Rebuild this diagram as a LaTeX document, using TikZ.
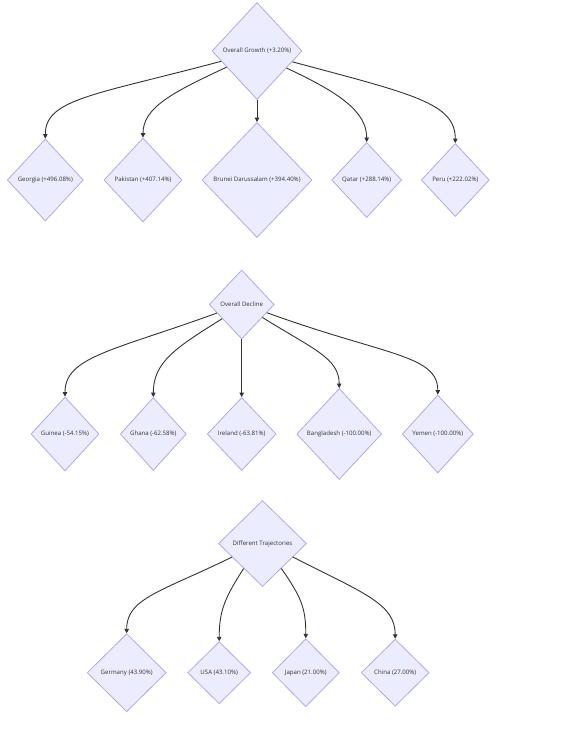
\documentclass[tikz,border=0pt]{standalone}
\usepackage{fontspec}
\setmainfont{Open Sans}
\usetikzlibrary{shapes.geometric,arrows.meta}
\definecolor{nodefill}{HTML}{ECECFF}
\definecolor{nodeline}{HTML}{B3A6EC}
\definecolor{edgeline}{HTML}{333333}
\tikzset{
	decision/.style={shape=diamond, draw=nodeline, fill=nodefill, line width=0.8pt, inner sep=0pt, text=edgeline, font=\fontsize{6.1}{7}\selectfont},
	dims/.style 2 args={minimum width=#1, minimum height=#2},
	link/.style={draw=edgeline, line width=0.9pt, -{Triangle[length=4.5pt,width=4.5pt]}}
}
\begin{document}
\begin{tikzpicture}[x=1pt,y=1pt]
		\useasboundingbox (0,0) rectangle (564,-732);
		
		% Overall Growth
		\node[decision, dims={90pt}{97pt}] (growth) at (257,-51) {Overall Growth (+3.20\%)};
		\node[decision, dims={76pt}{82pt}] (georgia) at (45.3,-180) {Georgia (+496.08\%)};
		\node[decision, dims={78pt}{84pt}] (pakistan) at (143,-180) {Pakistan (+407.14\%)};
		\node[decision, dims={110pt}{115pt}] (brunei) at (257,-180) {Brunei Darussalam (+394.40\%)};
		\node[decision, dims={70pt}{75pt}] (qatar) at (366.7,-180) {Qatar (+288.14\%)};
		\node[decision, dims={68pt}{73pt}] (peru) at (455.3,-180) {Peru (+222.02\%)};
		
		\draw[link] (growth.196) .. controls +(195:130) and +(90:40) .. (georgia.north);
		\draw[link] (growth.208) .. controls +(205:60) and +(90:30) .. (pakistan.north);
		\draw[link] (growth.south) -- (brunei.north);
		\draw[link] (growth.330) .. controls +(335:60) and +(90:30) .. (qatar.north);
		\draw[link] (growth.343) .. controls +(345:125) and +(90:40) .. (peru.north);
		
		% Overall Decline
		\node[decision, dims={65pt}{69pt}] (decline) at (241.7,-304.5) {Overall Decline};
		\node[decision, dims={68pt}{74pt}] (guinea) at (65,-434) {Guinea (-54.15\%)};
		\node[decision, dims={66pt}{73pt}] (ghana) at (153.3,-434) {Ghana (-62.58\%)};
		\node[decision, dims={69pt}{73pt}] (ireland) at (241.7,-434) {Ireland (-63.81\%)};
		\node[decision, dims={85pt}{91pt}] (bangladesh) at (339.2,-434) {Bangladesh (-100.00\%)};
		\node[decision, dims={71pt}{78pt}] (yemen) at (437.8,-434) {Yemen (-100.00\%)};
		
		\draw[link] (decline.199) .. controls +(200:110) and +(90:40) .. (guinea.north);
		\draw[link] (decline.216) .. controls +(212:55) and +(90:35) .. (ghana.north);
		\draw[link] (decline.south) -- (ireland.north);
		\draw[link] (decline.328) .. controls +(328:60) and +(90:30) .. (bangladesh.north);
		\draw[link] (decline.342) .. controls +(340:125) and +(90:40) .. (yemen.north);
		
		% Different Trajectories
		\node[decision, dims={88pt}{86pt}] (mixed) at (262.5,-543.5) {Different Trajectories};
		\node[decision, dims={79pt}{78pt}] (germany) at (126.7,-672.7) {Germany (43.90\%)};
		\node[decision, dims={63pt}{62pt}] (usa) at (219.2,-672.7) {USA (43.10\%)};
		\node[decision, dims={67pt}{68pt}] (japan) at (305.8,-672.7) {Japan (21.00\%)};
		\node[decision, dims={68pt}{67pt}] (china) at (395.2,-672.7) {China (27.00\%)};
		
		\draw[link] (mixed.204) .. controls +(206:80) and +(90:35) .. (germany.north);
		\draw[link] (mixed.233) .. controls +(237:35) and +(90:30) .. (usa.north);
		\draw[link] (mixed.307) .. controls +(305:35) and +(90:30) .. (japan.north);
		\draw[link] (mixed.336) .. controls +(333:80) and +(90:35) .. (china.north);
	\end{tikzpicture}
\end{document}
